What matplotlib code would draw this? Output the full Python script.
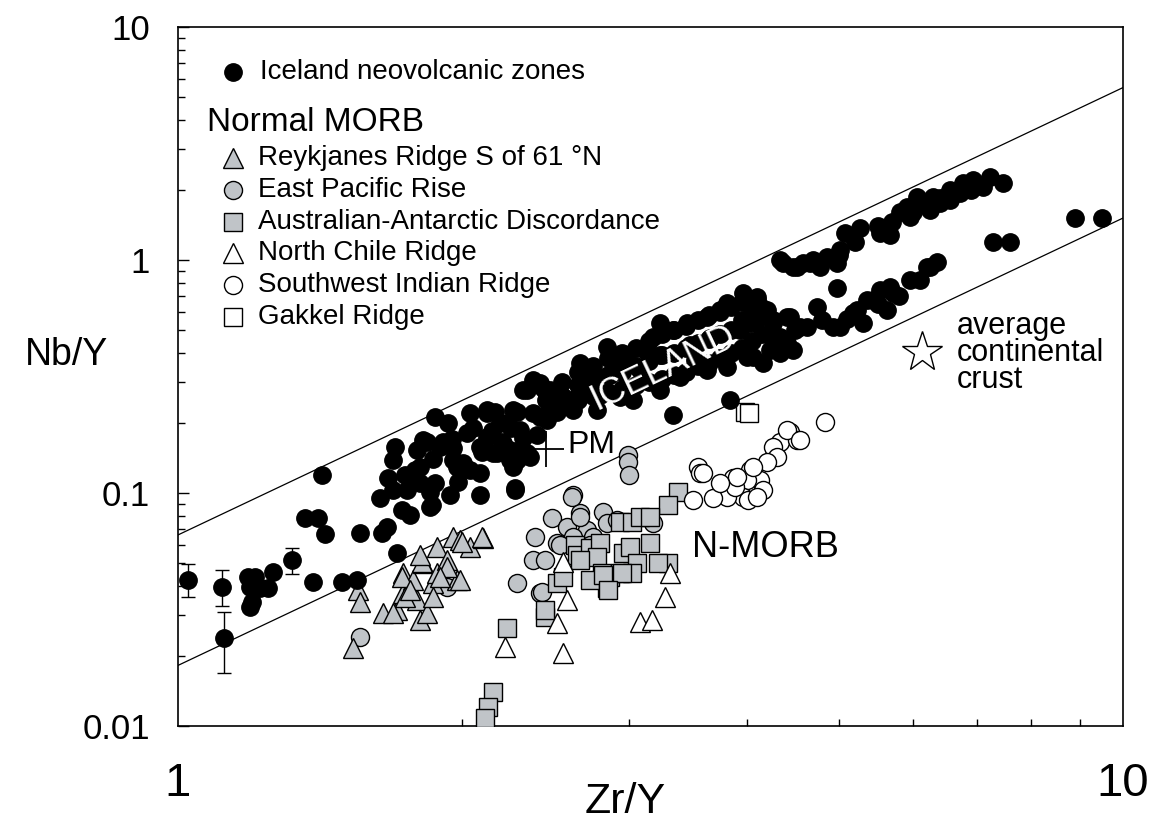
import numpy as np
import matplotlib
matplotlib.use("Agg")
import matplotlib.pyplot as plt

plt.rcParams['font.family'] = ['Liberation Sans', 'DejaVu Sans']

# Iceland neovolcanic zones (Zr/Y, Nb/Y)
iceland_zr = [1.186, 1.206, 1.192, 1.221, 1.245, 1.192, 1.198, 1.260, 1.390, 1.491,
              1.547, 1.420, 1.363, 1.406, 1.431, 1.558, 1.644, 1.664, 1.705, 1.697,
              1.689, 1.668, 1.636, 1.689, 1.747, 1.726, 1.760, 1.803, 1.847, 1.870,
              1.856, 1.940, 2.087, 2.273, 1.870, 1.931, 1.790, 1.834, 1.907, 1.954,
              1.973, 2.037, 2.087, 2.037, 2.123, 2.165, 2.022, 2.123, 2.175, 2.245,
              2.341, 2.229, 2.284, 2.375, 2.458, 2.341, 2.434, 2.518, 2.318, 2.399,
              1.816, 1.893, 1.954, 2.003, 2.208, 2.301, 2.358, 2.262, 1.847, 1.847,
              1.803, 2.476, 2.416, 2.318, 2.416, 2.476, 2.555, 2.644, 2.663, 2.844,
              2.935, 2.986, 3.182, 3.237, 3.341, 3.457, 3.629, 3.746, 3.810, 3.962,
              4.098, 4.200, 4.262, 4.410, 4.335, 4.475, 4.586, 2.537, 2.618, 2.776,
              2.935, 3.030, 3.237, 3.398, 3.629, 3.810, 4.000, 4.159, 4.335, 4.475,
              4.553, 2.123, 2.191, 2.262, 2.301, 2.087, 2.154, 2.245, 2.284, 2.273,
              3.341, 3.838, 2.375, 4.129, 4.059, 4.410, 2.729, 2.865, 3.083, 3.237,
              3.482, 3.656, 3.933, 4.232, 2.796, 3.121, 3.525,
              2.45, 2.45, 2.55, 2.55, 2.65, 2.65, 2.65, 2.75, 2.75, 2.75,
              2.85, 2.85, 2.85, 2.95, 2.95, 2.95, 3.05, 3.05, 3.05, 3.15,
              3.15, 3.15, 3.25, 3.25, 3.25, 3.35, 3.35, 3.35, 3.45, 3.45,
              3.45, 3.55, 3.55, 3.55, 3.65, 3.65, 3.65, 3.75, 3.75, 3.75,
              3.85, 3.85, 3.85, 3.95, 3.95, 3.95, 4.05, 4.05, 4.15, 4.15,
              1.78, 1.86, 1.95, 2.05, 2.15, 2.25, 1.74, 1.98, 2.10, 2.20,
              4.367, 4.519, 4.665, 4.780, 4.862, 4.981, 5.018, 5.079, 5.267, 5.530,
              5.667, 5.808, 5.908, 5.951, 6.053, 6.097, 6.247, 6.293, 6.401, 6.559,
              6.559, 6.722, 6.771, 6.937, 7.108, 7.231, 7.464,
              4.70, 5.00, 5.20, 5.50, 5.70, 6.00, 6.40, 6.90, 7.00,
              4.098, 4.159, 4.262, 4.335, 4.443, 4.631, 4.745, 4.981, 4.933, 5.018,
              5.178, 5.229, 5.306, 5.358, 5.436, 5.530, 5.626, 5.667, 5.708, 5.951,
              6.201, 6.247, 6.354, 4.029, 4.232,
              4.50, 4.80, 5.10, 5.50, 5.80, 6.10,
              7.284, 7.593, 8.897, 9.502]
iceland_nb = [0.0436, 0.0436, 0.0395, 0.0391, 0.0391, 0.0324, 0.0341, 0.0458, 0.0415, 0.0415,
              0.0423, 0.1195, 0.0781, 0.0781, 0.0667, 0.0673, 0.0673, 0.0715, 0.0553, 0.158,
              0.139, 0.116, 0.0952, 0.103, 0.103, 0.0845, 0.0805, 0.1104, 0.1061, 0.1104,
              0.0888, 0.098, 0.098, 0.103, 0.212, 0.200, 0.153, 0.166, 0.166, 0.156,
              0.129, 0.1256, 0.1218, 0.220, 0.220, 0.223, 0.181, 0.174, 0.148, 0.139,
              0.148, 0.200, 0.223, 0.220, 0.206, 0.277, 0.282, 0.223, 0.172, 0.177,
              0.169, 0.158, 0.139, 0.1346, 0.164, 0.153, 0.143, 0.129, 0.101, 0.0871,
              0.129, 0.234, 0.212, 0.277, 0.297, 0.277, 0.258, 0.258, 0.361, 0.423,
              0.361, 0.372, 0.467, 0.536, 0.501, 0.536, 0.569, 0.610, 0.654, 0.722,
              0.673, 0.610, 0.553, 0.569, 1.000, 0.933, 0.971, 0.234, 0.227, 0.227,
              0.258, 0.251, 0.277, 0.315, 0.337, 0.347, 0.383, 0.361, 0.399, 0.411,
              0.516, 0.227, 0.200, 0.227, 0.186, 0.158, 0.148, 0.153, 0.139, 0.1051,
              0.216, 0.251, 0.305, 0.569, 0.383, 0.440, 0.290, 0.321, 0.337, 0.391,
              0.432, 0.463, 0.501, 0.477, 0.263, 0.411, 0.372,
              0.250, 0.270, 0.260, 0.300, 0.250, 0.290, 0.330, 0.260, 0.310, 0.350,
              0.270, 0.320, 0.380, 0.280, 0.330, 0.400, 0.290, 0.350, 0.420, 0.300,
              0.370, 0.450, 0.310, 0.390, 0.480, 0.320, 0.400, 0.500, 0.330, 0.420,
              0.520, 0.350, 0.440, 0.550, 0.360, 0.460, 0.580, 0.380, 0.480, 0.600,
              0.400, 0.500, 0.630, 0.420, 0.550, 0.660, 0.450, 0.600, 0.480, 0.620,
              0.125, 0.140, 0.170, 0.190, 0.185, 0.190, 0.120, 0.112, 0.150, 0.165,
              0.971, 0.933, 0.971, 0.933, 1.030, 0.971, 1.104, 1.306, 1.372, 1.306,
              1.280, 1.607, 1.688, 1.529, 1.864, 1.756, 1.639, 1.864, 1.756, 1.809,
              1.998, 1.940, 2.141, 2.205, 2.058, 2.271, 2.141,
              1.000, 1.050, 1.200, 1.400, 1.450, 1.600, 1.850, 2.000, 2.100,
              0.694, 0.610, 0.536, 0.467, 0.569, 0.516, 0.629, 0.758, 0.516, 0.516,
              0.592, 0.610, 0.536, 0.673, 0.673, 0.743, 0.610, 0.766, 0.722, 0.821,
              0.933, 0.933, 0.980, 0.536, 0.411,
              0.500, 0.550, 0.560, 0.650, 0.700, 0.820,
              1.195, 1.195, 1.514, 1.514]

# Iceland samples plotted with error bars
err_zr = [1.025, 1.113, 1.118, 1.320]
err_nb = [0.0423, 0.0395, 0.0239, 0.0516]
err_lo = [0.0358, 0.0327, 0.0169, 0.0449]
err_hi = [0.0496, 0.0467, 0.0309, 0.0580]

# Reykjanes Ridge S of 61N
rr_zr = [1.551, 1.558, 1.532, 1.648, 1.705, 1.730, 1.730, 1.773, 1.816, 1.790,
         1.803, 1.834, 1.861, 1.879, 1.879, 1.926, 1.954, 1.988, 2.037, 1.973,
         2.102, 1.726, 1.812, 1.998, 2.097, 1.739, 1.689, 1.926, 1.988, 1.893,
         1.861, 1.760, 1.803]
rr_nb = [0.0383, 0.0341, 0.0216, 0.0305, 0.0315, 0.0372, 0.0454, 0.0423, 0.0501, 0.0347,
         0.0285, 0.0305, 0.0411, 0.0454, 0.0586, 0.0516, 0.0648, 0.0628, 0.0586, 0.0423,
         0.0641, 0.0436, 0.0506, 0.0616, 0.0648, 0.0358, 0.0305, 0.0481, 0.0423, 0.0436,
         0.0358, 0.0383, 0.0542]

# East Pacific Rise
epr_zr = [1.558, 1.926, 2.994, 2.994, 3.001, 2.618, 2.488, 2.663, 2.817, 2.387,
          2.375, 2.284, 2.416, 2.518, 2.580, 2.709, 2.749, 2.844, 2.914, 3.182,
          2.618, 2.612, 2.663, 2.428, 2.537, 2.729, 2.446]
epr_nb = [0.0241, 0.0395, 0.146, 0.136, 0.1195, 0.098, 0.0781, 0.0821, 0.0829, 0.0648,
          0.0516, 0.0411, 0.0372, 0.0610, 0.0715, 0.0694, 0.0648, 0.0743, 0.0766, 0.0743,
          0.0648, 0.0961, 0.0789, 0.0376, 0.0598, 0.0598, 0.0516]

# Australian-Antarctic Discordance
aad_zr = [3.382, 3.300, 2.935, 3.023, 3.083, 3.159, 2.631, 2.644, 2.729, 2.796,
          2.776, 2.810, 2.865, 2.844, 2.729, 2.935, 2.957, 3.008, 3.060, 3.159,
          3.300, 2.518, 2.446, 2.446, 2.229, 2.154, 2.128, 2.112, 2.555, 3.221,
          3.023, 2.950, 2.663, 2.817, 2.851]
aad_nb = [0.101, 0.0888, 0.0751, 0.0751, 0.0789, 0.0789, 0.0598, 0.0542, 0.0580, 0.0610,
          0.0531, 0.0454, 0.0436, 0.0391, 0.0423, 0.0454, 0.0553, 0.0586, 0.0501, 0.0610,
          0.0501, 0.0411, 0.0294, 0.0315, 0.0263, 0.0140, 0.0121, 0.0108, 0.0436, 0.0501,
          0.0454, 0.0454, 0.0516, 0.0445, 0.0383]

# North Chile Ridge
ncr_zr = [2.555, 2.580, 2.518, 2.218, 2.555, 3.316, 3.276, 3.083, 3.174]
ncr_nb = [0.0506, 0.0347, 0.0277, 0.0218, 0.0206, 0.0454, 0.0358, 0.0279, 0.0285]

# Southwest Indian Ridge
swir_zr = [4.838, 4.443, 4.335, 4.519, 4.262, 4.303, 4.200, 4.029, 4.129, 4.159,
           4.000, 3.866, 3.962, 4.010, 4.098, 3.810, 3.683, 3.508, 3.550, 3.568,
           3.885, 4.410, 4.553, 4.059, 3.904, 3.594, 3.746]
swir_nb = [0.202, 0.183, 0.166, 0.169, 0.158, 0.143, 0.136, 0.1256, 0.1137, 0.103,
           0.1137, 0.116, 0.0961, 0.0933, 0.0961, 0.0961, 0.0952, 0.0933, 0.129, 0.1218,
           0.1061, 0.186, 0.169, 0.129, 0.1171, 0.1218, 0.1104]

# Gakkel Ridge
gak_zr = [3.981, 4.019]
gak_nb = [0.223, 0.220]

# reference points
pm_zr, pm_nb = 2.45, 0.155
cc_zr, cc_nb = 6.13, 0.403

# Iceland array bounds: log(Nb/Y) = 1.92 log(Zr/Y) + c
slope = 1.92
upper_c = -1.18
lower_c = -1.74

gray = '#c0c4c8'

fig = plt.figure(figsize=(11.57, 8.25), dpi=100)
ax = fig.add_axes([178 / 1157, 99 / 825, 945 / 1157, 699 / 825])
ax.set_xscale('log')
ax.set_yscale('log')
ax.set_xlim(1, 10)
ax.set_ylim(0.01, 10)

xx = np.array([1.0, 10.0])
ax.plot(xx, 10 ** (slope * np.log10(xx) + upper_c), color='black', lw=0.9, zorder=1)
ax.plot(xx, 10 ** (slope * np.log10(xx) + lower_c), color='black', lw=0.9, zorder=1)

mk = dict(linestyle='none', markeredgecolor='black', markeredgewidth=1.0)
ax.plot(epr_zr, epr_nb, 'o', ms=13, markerfacecolor=gray, zorder=2, **mk)
ax.plot(rr_zr, rr_nb, '^', ms=14.5, markerfacecolor=gray, zorder=3, **mk)
ax.plot(aad_zr, aad_nb, 's', ms=12.5, markerfacecolor=gray, zorder=3, **mk)
ax.plot(ncr_zr, ncr_nb, '^', ms=14.5, markerfacecolor='white', zorder=3, **mk)
ax.plot(swir_zr, swir_nb, 'o', ms=13, markerfacecolor='white', zorder=3, **mk)
ax.plot(gak_zr, gak_nb, 's', ms=12.5, markerfacecolor='white', zorder=3, **mk)

ax.plot(iceland_zr, iceland_nb, 'o', ms=12.5, color='black', linestyle='none', zorder=4)
yerr = [np.array(err_nb) - np.array(err_lo), np.array(err_hi) - np.array(err_nb)]
ax.errorbar(err_zr, err_nb, yerr=yerr, fmt='o', ms=12.5, color='black',
            ecolor='black', elinewidth=1.0, capsize=5, capthick=1.0, zorder=4)

ax.plot([pm_zr], [pm_nb], '+', ms=26, color='black', mew=1.3, zorder=5)
ax.text(2.58, 0.161, 'PM', fontsize=23, ha='left', va='center', zorder=6)
ax.plot([cc_zr], [cc_nb], '*', ms=30, markerfacecolor='white',
        markeredgecolor='black', markeredgewidth=1.0, zorder=5)
ax.text(6.67, 0.399, 'average\ncontinental\ncrust', fontsize=22, ha='left',
        va='center', linespacing=0.85, zorder=6)
ax.text(3.50, 0.0586, 'N-MORB', fontsize=26, ha='left', va='center', zorder=6)

# rotated ICELAND label along the array
p1 = ax.transData.transform((2.0, 10 ** (slope * np.log10(2.0) + upper_c)))
p2 = ax.transData.transform((5.0, 10 ** (slope * np.log10(5.0) + upper_c)))
angle = np.degrees(np.arctan2(p2[1] - p1[1], p2[0] - p1[0]))
ax.text(3.26, 0.344, 'ICELAND', fontsize=26, color='white', ha='center',
        va='center', rotation=angle, rotation_mode='anchor', zorder=7)

# legend drawn by hand
leg_x, txt_x = 0.0582, 0.0847
ax.plot([leg_x], [0.9356], 'o', ms=12.5, color='black', transform=ax.transAxes, clip_on=False)
ax.text(0.0868, 0.9356, 'Iceland neovolcanic zones', fontsize=20, va='center',
        transform=ax.transAxes)
ax.text(0.0307, 0.8627, 'Normal MORB', fontsize=24, va='center', transform=ax.transAxes)
leg_rows = [('^', gray, 'Reykjanes Ridge S of 61 °N', 0.8126),
            ('o', gray, 'East Pacific Rise', 0.7668),
            ('s', gray, 'Australian-Antarctic Discordance', 0.7210),
            ('^', 'white', 'North Chile Ridge', 0.6767),
            ('o', 'white', 'Southwest Indian Ridge', 0.6309),
            ('s', 'white', 'Gakkel Ridge', 0.5851)]
for m, fc, label, yy in leg_rows:
    size = {'^': 14.5, 'o': 13, 's': 12.5}[m]
    ax.plot([leg_x], [yy], m, ms=size, markerfacecolor=fc, transform=ax.transAxes,
            clip_on=False, **mk)
    ax.text(txt_x, yy, label, fontsize=20, va='center', transform=ax.transAxes)

# axes styling
for s in ax.spines.values():
    s.set_linewidth(1.2)
ax.tick_params(which='both', direction='in', top=False, right=False)
ax.tick_params(axis='y', which='major', length=8, width=1, pad=20, labelsize=25)
ax.tick_params(axis='y', which='minor', length=5, width=1)
ax.tick_params(axis='x', which='major', length=0, pad=26, labelsize=34)
ax.tick_params(axis='x', which='minor', length=5, width=1)
ax.set_yticks([0.01, 0.1, 1, 10])
ax.set_yticklabels(['0.01', '0.1', '1', '10'])
ax.set_xticks([1, 10])
ax.set_xticklabels(['1', '10'])
ax.xaxis.set_minor_formatter(matplotlib.ticker.NullFormatter())
ax.yaxis.set_minor_formatter(matplotlib.ticker.NullFormatter())

fig.text(625 / 1157, 3 / 825, 'Zr/Y', fontsize=31, ha='center', va='bottom')
fig.text(67 / 1157, (825 - 355) / 825, 'Nb/Y', fontsize=27, ha='center', va='center')

fig.savefig('out.png', dpi=100)
